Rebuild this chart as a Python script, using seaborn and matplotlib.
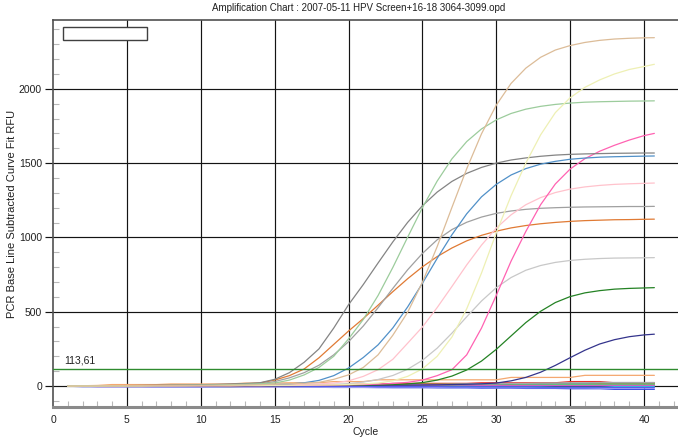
import numpy as np
import pandas as pd
import matplotlib
matplotlib.use("Agg")
import matplotlib.pyplot as plt
from matplotlib.patches import Rectangle
from matplotlib.ticker import MultipleLocator
import seaborn as sns

# ---------------- data ----------------
cycles = list(range(1, 41)) + [40.7]

title_text = "Amplification Chart : 2007-05-11 HPV Screen+16-18 3064-3099.opd"
x_label = "Cycle"
y_label = "PCR Base Line Subtracted Curve Fit RFU"
threshold = 113.61
threshold_label = "113,61"
x_ticks = [0, 5, 10, 15, 20, 25, 30, 35, 40]
y_ticks = [0, 500, 1000, 1500, 2000]

# low / flat wells
red_well = [0, 0, 0, 0, 0, 0, 0, 0, 2, 2,
            2, 2, 2, 2, 2, 2, 2, 2, 2, 12,
            12, 12, 18, 18, 18, 18, 18, 18, 22, 22,
            22, 22, 22, 22, 30, 30, 30, 22, 22, 22,
            22]
green_well = [0, 0, 0, 0, -3, -3, -3, -5, -5, -5,
              -5, -5, -2, -2, -2, -2, -2, 0, 0, 0,
              0, 0, 5, 5, 5, 5, 8, 8, 8, 10,
              10, 10, 10, 10, 14, 14, 14, 14, 14, 14,
              14]
purple_well = [0, 0, -4, -4, -4, -4, -6, -6, -6, -6,
               -4, -4, -4, -4, -4, -2, -2, -2, -2, -2,
               0, 0, 0, 0, 2, 2, 2, 2, 4, 4,
               4, 4, 4, 6, 6, 6, 6, 6, 6, 6,
               6]
cyan_well = [0, 0, 0, 0, 0, 0, 2, 2, 2, 2,
             2, 2, 2, -2, -2, -2, -2, -4, -4, -4,
             -4, -4, -4, -4, -6, -6, -6, -6, -6, -6,
             -6, -6, -6, -8, -8, -8, -8, -4, -4, -4,
             -4]
blue_well = [0, 0, 0, 0, 0, 0, 0, 0, 0, 0,
             0, 0, -2, -2, -2, -4, -4, -6, -6, -6,
             -8, -8, -10, -10, -10, -12, -12, -12, -14, -14,
             -14, -16, -16, -16, -18, -18, -18, -22, -22, -22,
             -22]
olive_well = [0, 0, 2, 2, 2, 2, 2, 4, 4, 4,
              4, 4, 6, 6, 6, 6, 6, 8, 8, 8,
              10, 10, 10, 12, 12, 12, 12, 12, 14, 14,
              14, 14, 14, 14, 14, 16, 16, 16, 16, 16,
              16]
lavender_well = [0, -6, -6, -6, -6, -6, -8, -8, -8, -8,
                 -8, -6, -6, -6, -6, -8, -8, -8, -10, -10,
                 -10, -12, -12, -12, -12, -10, -10, -10, -10, -12,
                 -12, -12, -12, -12, -12, -12, -14, -14, -14, -14,
                 -14]
lime_well = [0, 0, 0, 0, 0, 0, 0, 0, 0, 4,
             4, 4, 4, 4, 2, 2, 2, 2, 2, 4,
             4, 4, 6, 6, 6, 6, 6, 8, 8, 8,
             8, 10, 10, 10, 10, 10, 8, 8, 8, 8,
             8]
teal_well = [0, 0, 0, 2, 2, 2, 2, 2, 4, 4,
             4, 4, 4, 6, 6, 6, 6, 6, 8, 8,
             8, 10, 10, 10, 12, 12, 12, 14, 14, 14,
             16, 16, 16, 18, 18, 18, 20, 20, 20, 20,
             20]
grey_low_well = [0, 0, 0, 0, 0, 0, 0, 0, 0, 0,
                 0, 0, 2, 2, 2, 4, 4, 4, 6, 6,
                 6, 8, 8, 8, 10, 10, 12, 14, 16, 16,
                 18, 18, 20, 20, 22, 22, 24, 24, 24, 24,
                 24]
magenta_well = [0, 0, 0, 0, 0, 0, 0, 0, 0, 0,
                0, 0, 0, 0, 0, 0, 0, 0, 2, 2,
                2, 2, 2, 8, 8, 8, 8, 8, 4, 4,
                4, 4, 4, 4, 4, 4, 4, 4, 4, 4,
                4]
midblue_well = [0, 0, 0, 0, 0, 0, 0, 0, 0, 0,
                0, 0, 0, 0, 0, 0, -2, -2, -2, -2,
                -2, -4, -4, -4, -4, -4, -6, -6, -6, -6,
                -6, -6, -8, -8, -8, -8, -8, -10, -10, -10,
                -10]
light_orange_well = [0, 2, 4, 10, 10, 10, 10, 14, 14, 14,
                     14, 14, 20, 20, 20, 22, 22, 22, 30, 30,
                     30, 42, 42, 42, 42, 42, 42, 42, 42, 42,
                     58, 58, 58, 58, 58, 72, 72, 72, 72, 72,
                     72]

# amplifying wells
navy_well = [0, 0, 0, 0, 0, 1, 1, 1, 1, 2,
             2, 2, 2, 3, 3, 3, 4, 4, 4, 5,
             5, 5, 6, 6, 7, 8, 10, 12, 15, 20,
             35, 58, 93, 139, 191, 241, 283, 312, 332, 344,
             349]
dark_green_well = [0, 0, 0, 0, 1, 1, 1, 1, 2, 2,
                   2, 2, 3, 3, 3, 4, 4, 5, 5, 6,
                   7, 8, 10, 14, 23, 40, 67, 108, 168, 247,
                   337, 427, 503, 562, 602, 627, 642, 652, 657, 660,
                   662]
light_grey_well = [0, 0, 0, 1, 1, 1, 2, 2, 2, 3,
                   3, 3, 4, 4, 5, 6, 7, 9, 12, 16,
                   27, 44, 71, 113, 173, 255, 356, 466, 572, 662,
                   730, 779, 811, 832, 845, 853, 858, 861, 862, 863,
                   864]
orange_well = [0, 1, 1, 2, 2, 3, 4, 5, 6, 7,
               9, 11, 14, 20, 40, 70, 115, 190, 280, 370,
               454, 544, 635, 722, 802, 871, 929, 977, 1014, 1042,
               1064, 1080, 1092, 1101, 1108, 1113, 1116, 1119, 1120, 1122,
               1123]
grey_well = [0, 0, 1, 1, 2, 2, 3, 3, 4, 5,
             6, 8, 10, 15, 30, 55, 90, 140, 210, 298,
             404, 527, 657, 782, 892, 984, 1053, 1102, 1137, 1162,
             1178, 1189, 1196, 1200, 1203, 1205, 1206, 1207, 1208, 1208,
             1209]
light_pink_well = [0, 0, 1, 1, 1, 2, 2, 2, 3, 3,
                   4, 4, 5, 6, 7, 9, 12, 15, 20, 35,
                   65, 110, 180, 288, 397, 528, 670, 815, 948, 1063,
                   1152, 1220, 1268, 1302, 1325, 1340, 1350, 1357, 1361, 1364,
                   1366]
hot_pink_well = [0, 0, 0, 0, 1, 1, 1, 1, 2, 2,
                 2, 2, 3, 3, 4, 4, 5, 6, 7, 8,
                 10, 13, 17, 25, 40, 70, 110, 210, 390, 610,
                 840, 1040, 1220, 1360, 1460, 1530, 1580, 1620, 1655, 1685,
                 1700]
blue_amp_well = [0, 0, 1, 1, 1, 2, 2, 3, 3, 4,
                 4, 5, 6, 8, 10, 14, 22, 38, 70, 121,
                 192, 277, 391, 532, 691, 859, 1018, 1159, 1273, 1357,
                 1420, 1463, 1493, 1512, 1526, 1534, 1540, 1543, 1545, 1547,
                 1548]
dark_grey_well = [0, 1, 1, 2, 3, 4, 5, 6, 7, 9,
                  11, 14, 17, 22, 45, 90, 160, 250, 390, 547,
                  683, 828, 970, 1101, 1213, 1305, 1377, 1431, 1471, 1500,
                  1521, 1535, 1546, 1554, 1559, 1562, 1564, 1566, 1567, 1568,
                  1568]
sage_well = [0, 1, 1, 2, 2, 3, 3, 4, 5, 6,
             7, 9, 12, 15, 20, 40, 75, 125, 200, 317,
             448, 609, 798, 1001, 1200, 1379, 1529, 1645, 1730, 1791,
             1834, 1863, 1882, 1895, 1904, 1910, 1913, 1915, 1917, 1918,
             1919]
yellow_well = [0, 0, 0, 1, 1, 1, 2, 2, 2, 3,
               3, 3, 4, 4, 5, 5, 6, 7, 8, 10,
               14, 20, 35, 65, 115, 200, 330, 520, 760, 1030,
               1280, 1500, 1690, 1840, 1940, 2010, 2060, 2100, 2130, 2150,
               2165]
tan_well = [0, 0, 1, 1, 2, 2, 3, 3, 4, 4,
            5, 6, 7, 9, 12, 15, 19, 25, 45, 75,
            125, 210, 342, 496, 698, 938, 1202, 1462, 1697, 1890,
            2036, 2139, 2212, 2261, 2291, 2312, 2326, 2335, 2340, 2343,
            2344]

wells = {
    "red": red_well, "green": green_well, "purple": purple_well,
    "cyan": cyan_well, "blue": blue_well, "olive": olive_well,
    "lavender": lavender_well, "lime": lime_well, "teal": teal_well,
    "grey_low": grey_low_well, "magenta": magenta_well,
    "midblue": midblue_well, "light_orange": light_orange_well,
    "navy": navy_well, "dark_green": dark_green_well,
    "light_grey": light_grey_well, "orange": orange_well,
    "grey": grey_well, "light_pink": light_pink_well,
    "hot_pink": hot_pink_well, "blue_amp": blue_amp_well,
    "dark_grey": dark_grey_well, "sage": sage_well,
    "yellow": yellow_well, "tan": tan_well,
}

colors = {
    "red": "#e8302c", "green": "#1f9e3a", "purple": "#9a2fd0",
    "cyan": "#22c8e0", "blue": "#3446e0", "olive": "#c8b400",
    "lavender": "#9a9ef0", "lime": "#4ad86a", "teal": "#6a9a8a",
    "grey_low": "#a8a8a8", "magenta": "#d060c0", "midblue": "#5a5af0",
    "light_orange": "#f4a870", "navy": "#34348c", "dark_green": "#248224",
    "light_grey": "#c8c8c8", "orange": "#e07a34", "grey": "#a0a0a0",
    "light_pink": "#ffc2cc", "hot_pink": "#ff62b2", "blue_amp": "#5090c8",
    "dark_grey": "#848484", "sage": "#9ccc9c", "yellow": "#eef0b4",
    "tan": "#dcbc98",
}

rows = []
for name, vals in wells.items():
    for c, v in zip(cycles, vals):
        rows.append({"Cycle": c, "RFU": v, "Well": name})
df = pd.DataFrame(rows)

# ---------------- plot ----------------
sns.set_theme(style="white")
plt.rcParams["font.family"] = ["Liberation Sans", "DejaVu Sans"]

fig = plt.figure(figsize=(6.78, 4.37), dpi=100)
ax = fig.add_axes([53 / 678, 1 - 407 / 437, 1 - 53 / 678, (407 - 20) / 437])

ax.set_xlim(0, 42.3)
ax.set_ylim(-141, 2463)

grid_col = "#141414"
for xv in x_ticks[1:]:
    ax.axvline(xv, color=grid_col, lw=0.85, zorder=1)
for yv in y_ticks:
    ax.axhline(yv, color=grid_col, lw=0.85, zorder=1)

sns.lineplot(data=df, x="Cycle", y="RFU", hue="Well", hue_order=list(wells.keys()),
             palette=colors, legend=False, linewidth=0.9, estimator=None,
             sort=False, ax=ax, zorder=3)

ax.axhline(threshold, color="#2e8b2e", lw=1.0, zorder=4)
ax.text(0.75, threshold + 22, threshold_label, fontsize=7.5, color="#202020",
        ha="left", va="bottom", zorder=5)

ax.set_xticks(x_ticks)
ax.set_yticks(y_ticks)
ax.xaxis.set_minor_locator(MultipleLocator(1))
ax.yaxis.set_minor_locator(MultipleLocator(100))
ax.tick_params(axis="both", which="major", labelsize=7.5, labelcolor="#202020",
               color=grid_col, width=0.85)
ax.tick_params(axis="y", which="major", direction="out", length=6, pad=2, left=True)
ax.tick_params(axis="x", which="major", direction="out", length=0, pad=6, bottom=True)
ax.tick_params(axis="both", which="minor", direction="in", length=4,
               color="#b8b8b8", width=0.8, left=True, bottom=True)

ax.set_xlabel(x_label, fontsize=7.5, color="#202020", labelpad=1)
ax.set_ylabel(y_label, fontsize=8, color="#202020")
ax.yaxis.set_label_coords(-36 / 625, 0.5)

for side in ["top", "left"]:
    ax.spines[side].set_color("#505050")
    ax.spines[side].set_linewidth(1.2)
ax.spines["bottom"].set_color("#8a8a8a")
ax.spines["bottom"].set_linewidth(2.2)
ax.spines["right"].set_visible(False)

ax.add_patch(Rectangle((0.016, 0.948), 0.134, 0.034, transform=ax.transAxes,
                       fill=True, facecolor="white", edgecolor="#404040",
                       lw=1.0, zorder=6))

fig.text(359 / 678, 1 - 8 / 437, title_text, fontsize=7, color="#202020",
         ha="center", va="center")

fig.savefig("out.png", dpi=100)
